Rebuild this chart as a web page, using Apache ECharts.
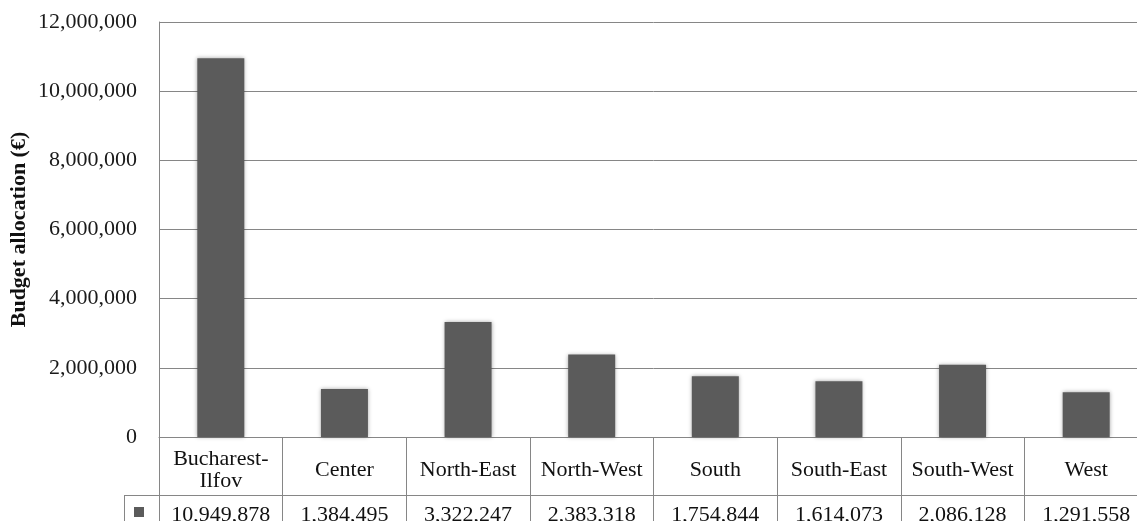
<!DOCTYPE html>
<html>
<head>
<meta charset="utf-8">
<script src="https://cdn.jsdelivr.net/npm/echarts@6/dist/echarts.min.js"></script>
<style>
  html, body { margin: 0; padding: 0; background: #fff; overflow: hidden; }
  #chart { width: 1148px; height: 521px; }
</style>
</head>
<body>
<div id="chart"></div>
<script>
// data
const categories = ['Bucharest-Ilfov', 'Center', 'North-East', 'North-West', 'South', 'South-East', 'South-West', 'West'];
const budget = [10949878, 1384495, 3322247, 2383318, 1754844, 1614073, 2086128, 1291558];
const yMax = 12000000;
const yStep = 2000000;

const serif = '"Liberation Serif", "Times New Roman", serif';
const lineGray = '#868686';
const fmt = v => Number(v).toLocaleString('en-US');

const chart = echarts.init(document.getElementById('chart'));

chart.setOption({
  animation: false,
  grid: { left: 159, top: 22, right: 0, bottom: 84, containLabel: false, outerBoundsMode: 'none' },
  legend: {
    left: 134, top: 507, padding: 0,
    icon: 'rect', itemWidth: 10, itemHeight: 10,
    formatter: () => '',
    selectedMode: false
  },
  xAxis: [
    {
      type: 'category',
      data: categories,
      position: 'bottom',
      axisLine: { show: true, lineStyle: { color: lineGray, width: 1 } },
      axisTick: { show: true, length: 58, interval: 0, lineStyle: { color: lineGray } },
      axisLabel: {
        interval: 0, margin: 33, verticalAlign: 'middle',
        fontFamily: serif, fontSize: 22, lineHeight: 22, color: '#111',
        formatter: v => v.replace('Bucharest-', 'Bucharest-\n')
      }
    },
    {
      // value row of the data table
      type: 'category',
      data: budget.map(fmt),
      position: 'bottom',
      offset: 58,
      axisLine: { show: true, lineStyle: { color: lineGray, width: 1 } },
      axisTick: { show: true, length: 40, interval: 0, lineStyle: { color: lineGray } },
      axisLabel: {
        interval: 0, margin: 20, verticalAlign: 'middle',
        fontFamily: serif, fontSize: 22, color: '#111'
      }
    }
  ],
  yAxis: {
    type: 'value',
    min: 0, max: yMax, interval: yStep,
    name: 'Budget allocation (€)',
    nameLocation: 'middle',
    nameGap: 129,
    nameMoveOverlap: false,
    nameTextStyle: { fontFamily: serif, fontSize: 22, fontWeight: 'bold', color: '#111' },
    axisLine: { show: true, lineStyle: { color: lineGray, width: 1 } },
    axisTick: { show: false },
    splitLine: { lineStyle: { color: lineGray, width: 1 } },
    axisLabel: { formatter: fmt, margin: 22, fontFamily: serif, fontSize: 22, color: '#1a1a1a' }
  },
  graphic: [
    // left part of the table's value row
    { type: 'line', shape: { x1: 124, y1: 495.5, x2: 159, y2: 495.5 }, style: { stroke: lineGray, lineWidth: 1 } },
    { type: 'line', shape: { x1: 124.5, y1: 495, x2: 124.5, y2: 521 }, style: { stroke: lineGray, lineWidth: 1 } }
  ],
  series: [
    {
      name: 'Budget allocation',
      type: 'bar',
      data: budget,
      barWidth: 47,
      itemStyle: {
        color: '#5b5b5b',
        shadowBlur: 4,
        shadowColor: 'rgba(0,0,0,0.35)'
      }
    }
  ]
});

window.addEventListener('resize', () => chart.resize());
</script>
</body>
</html>
